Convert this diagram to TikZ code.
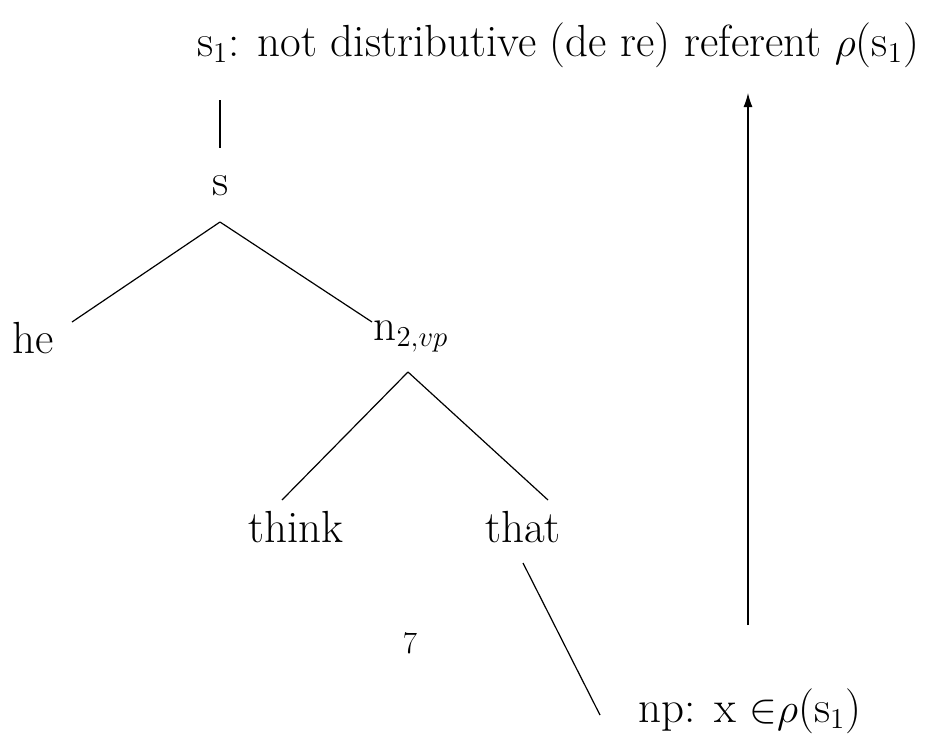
\documentclass[tikz,border=0pt]{standalone}
\usetikzlibrary{arrows.meta}
\begin{document}
\begin{tikzpicture}[x=0.5pt,y=-0.5pt,
  lbl/.style={inner sep=0pt,anchor=base,font=\fontsize{22.5}{27}\selectfont},
  edge/.style={line width=0.6pt},
  arr/.style={line width=0.6pt,-{Latex[length=7pt,width=4.5pt]}}]
\useasboundingbox (0,0) rectangle (934,734);
\node[lbl] (top) at (558,56) {s$_1$: not distributive (de re) referent $\rho$(s$_1$)};
\node[lbl] (s) at (221,195) {s};
\node[lbl] (he) at (33,353) {he};
\node[lbl] (n) at (411,340) {n$_{2,vp}$};
\node[lbl] (think) at (296,542) {think};
\node[lbl] (that) at (523,542) {that};
\node[lbl] (np) at (750,722) {np: x $\in${}$\rho$(s$_1$)};
\node[inner sep=0pt,anchor=base,font=\fontsize{15.5}{18}\selectfont] (pg) at (410,653) {7};
\coordinate (a1) at (220,100); \coordinate (a2) at (220,148);
\coordinate (b0) at (220,222); \coordinate (b1) at (72,322); \coordinate (b2) at (372,322);
\coordinate (c0) at (408,372); \coordinate (c1) at (282,500); \coordinate (c2) at (548,500);
\coordinate (d1) at (523,563); \coordinate (d2) at (600,715);
\coordinate (e1) at (748,625); \coordinate (e2) at (748,93);
\draw[edge] (a1) -- (a2);
\draw[edge] (b0) -- (b1);
\draw[edge] (b0) -- (b2);
\draw[edge] (c0) -- (c1);
\draw[edge] (c0) -- (c2);
\draw[edge] (d1) -- (d2);
\draw[arr] (e1) -- (e2);
\end{tikzpicture}
\end{document}
